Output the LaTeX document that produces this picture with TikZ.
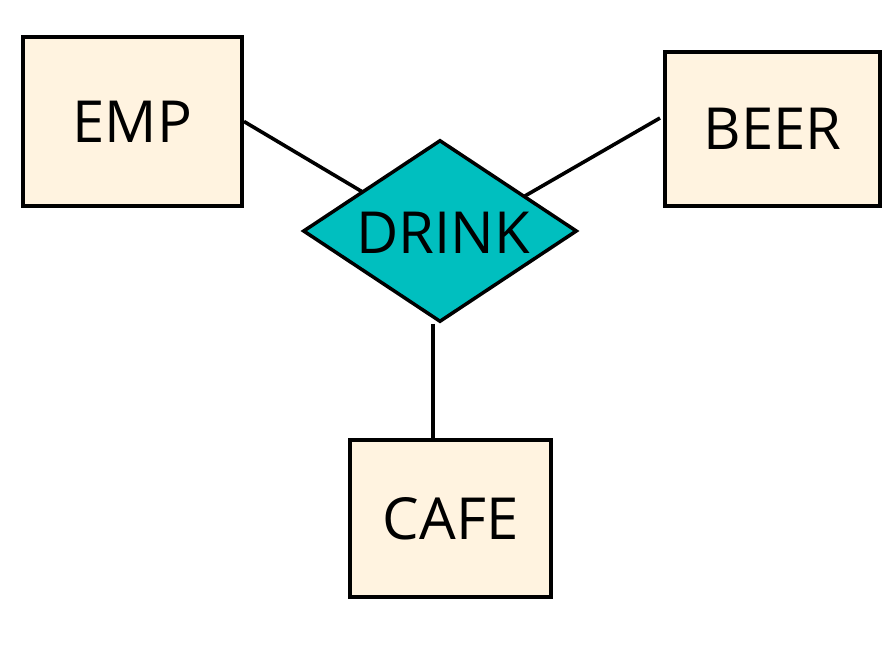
\documentclass[tikz,border=0pt]{standalone}
\usepackage{fontspec}
\setmainfont{Open Sans}
\usetikzlibrary{shapes.geometric,backgrounds}
\definecolor{boxfill}{HTML}{FFF3E0}
\definecolor{relfill}{HTML}{00BFBF}
\begin{document}
\begin{tikzpicture}[x=1pt,y=-1pt,
  entity/.style={draw=black,line width=4pt,fill=boxfill,inner sep=0pt,
    font=\fontsize{58}{70}\selectfont},
  relation/.style={diamond,draw=black,line width=3.5pt,fill=relfill,inner sep=0pt,
    aspect=1.5,minimum width=274pt,minimum height=182pt,
    font=\fontsize{58}{70}\selectfont},
  link/.style={draw=black,line width=3.6pt}]
\useasboundingbox (0,0) rectangle (890,661);
\node[entity,minimum width=219pt,minimum height=169pt] (emp) at (132.5,121.5) {EMP};
\node[entity,minimum width=215pt,minimum height=154pt] (beer) at (772.5,129) {BEER};
\node[entity,minimum width=201pt,minimum height=157pt] (cafe) at (450.5,518.5) {CAFE};
\node[relation] (drink) at (440,231) {};
\node (drinklabel) at (443,232.5) {\fontsize{58}{70}\selectfont DRINK};
\coordinate (cx) at (433,0);
\coordinate (b1) at ([shift={(-3,-11)}]beer.west);
\begin{pgfonlayer}{background}
\fill[white] (0,0) rectangle (890,661);
\draw[link] (emp.east) -- ([shift={(0,7)}]drink.center);
\draw[link] (b1) -- ([shift={(0,14)}]drink.center);
\draw[link] (drink.south -| cx) -- (cafe.north -| cx);
\end{pgfonlayer}
\end{tikzpicture}
\end{document}
